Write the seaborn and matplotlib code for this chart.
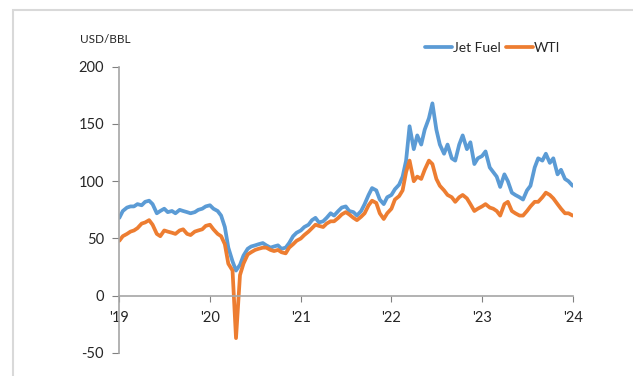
import pandas as pd
import numpy as np
import matplotlib
matplotlib.use('Agg')
import matplotlib.pyplot as plt
from matplotlib.patches import Rectangle
from matplotlib.lines import Line2D
import seaborn as sns

# semi-monthly readings, Jan 2019 - Jan 2024 (USD/bbl)
jet_fuel = [
    68, 74, 77, 78, 78, 80, 79, 82, 83, 80, 72, 74, 76, 73, 74, 72, 75, 74, 73, 72, 73, 75, 76, 78,
    79, 76, 74, 70, 60, 42, 30, 22, 27, 35, 41, 43, 44, 45, 46, 44, 42, 43, 44, 41, 42, 46, 52, 55,
    57, 60, 62, 66, 68, 64, 65, 68, 72, 70, 74, 77, 78, 74, 73, 70, 74, 80, 88, 94, 92, 84, 80, 86,
    88, 93, 97, 104, 118, 148, 128, 140, 132, 145, 155, 168, 145, 132, 124, 132, 120, 118, 132, 140, 128, 134, 115, 120,
    122, 126, 112, 108, 104, 95, 106, 100, 90, 88, 86, 84, 92, 96, 112, 120, 118, 124, 116, 120, 106, 110, 102, 100,
    96,
]
wti = [
    48, 52, 54, 56, 57, 59, 63, 64, 66, 62, 54, 52, 57, 56, 55, 54, 57, 58, 54, 53, 56, 57, 58, 61,
    62, 58, 54, 52, 45, 28, 22, -37, 18, 28, 36, 38, 40, 41, 42, 42, 40, 39, 40, 38, 37, 42, 45, 48,
    50, 53, 56, 59, 62, 61, 60, 63, 65, 65, 68, 71, 73, 71, 68, 66, 69, 72, 79, 83, 81, 72, 67, 72,
    76, 84, 87, 92, 108, 118, 100, 104, 102, 110, 118, 115, 102, 96, 92, 88, 86, 82, 86, 88, 85, 80, 74, 76,
    78, 80, 77, 76, 74, 70, 80, 82, 74, 72, 70, 70, 74, 78, 82, 82, 86, 90, 88, 85, 80, 76, 72, 72,
    70,
]
dates = pd.date_range('2019-01-01', '2024-01-01', freq='SMS')
year_ticks = pd.to_datetime(['2019-01-01', '2020-01-01', '2021-01-01', '2022-01-01', '2023-01-01', '2024-01-01'])
year_labels = ["'19", "'20", "'21", "'22", "'23", "'24"]
y_ticks = [-50, 0, 50, 100, 150, 200]

df = pd.DataFrame({
    'date': np.concatenate([dates, dates]),
    'price': jet_fuel + wti,
    'series': ['Jet Fuel'] * len(dates) + ['WTI'] * len(dates),
})

sns.set_style('white')
plt.rcParams['font.family'] = ['Lato', 'DejaVu Sans']
plt.rcParams['axes.unicode_minus'] = False

fig = plt.figure(figsize=(6.33, 3.76), dpi=100)
ax = fig.add_axes([0.1885, 0.0612, 0.7162, 0.7614])

sns.lineplot(data=df, x='date', y='price', hue='series',
             palette={'Jet Fuel': '#5B9BD5', 'WTI': '#ED7D31'},
             linewidth=2.7, ax=ax, legend=False)

ax.set_xlim(year_ticks[0], year_ticks[-1])
ax.set_ylim(-50, 200)
ax.set_xticks(year_ticks)
ax.set_xticklabels(year_labels)
ax.set_yticks(y_ticks)
ax.set_xlabel('')
ax.set_ylabel('')

for s in ['top', 'right']:
    ax.spines[s].set_visible(False)
ax.spines['bottom'].set_position(('data', 0))
for s in ['left', 'bottom']:
    ax.spines[s].set_color('#A6A6A6')
    ax.spines[s].set_linewidth(1.2)
ax.tick_params(axis='y', direction='out', length=5, color='#808080', labelsize=10.5,
               labelcolor='#262626', pad=6, left=True)
ax.tick_params(axis='x', direction='out', length=4, color='#808080', labelsize=10.5,
               labelcolor='#262626', pad=7, bottom=True)

fig.text(0.127, 0.896, 'USD/BBL', fontsize=8.5, color='#262626', va='center', ha='left')

handles = [Line2D([], [], color='#5B9BD5', lw=2.7), Line2D([], [], color='#ED7D31', lw=2.7)]
fig.legend(handles, ['Jet Fuel', 'WTI'], loc='center right', bbox_to_anchor=(0.905, 0.872),
           ncol=2, frameon=False, fontsize=10, handlelength=1.9, handletextpad=0.1,
           columnspacing=0.4, labelcolor='#262626')

fig.patches.append(Rectangle((13 / 633, -0.1), 1.2, 1 - 10 / 376 + 0.1, transform=fig.transFigure,
                             fill=False, edgecolor='#D9D9D9', linewidth=1.5))

fig.savefig('out.png', dpi=100)
